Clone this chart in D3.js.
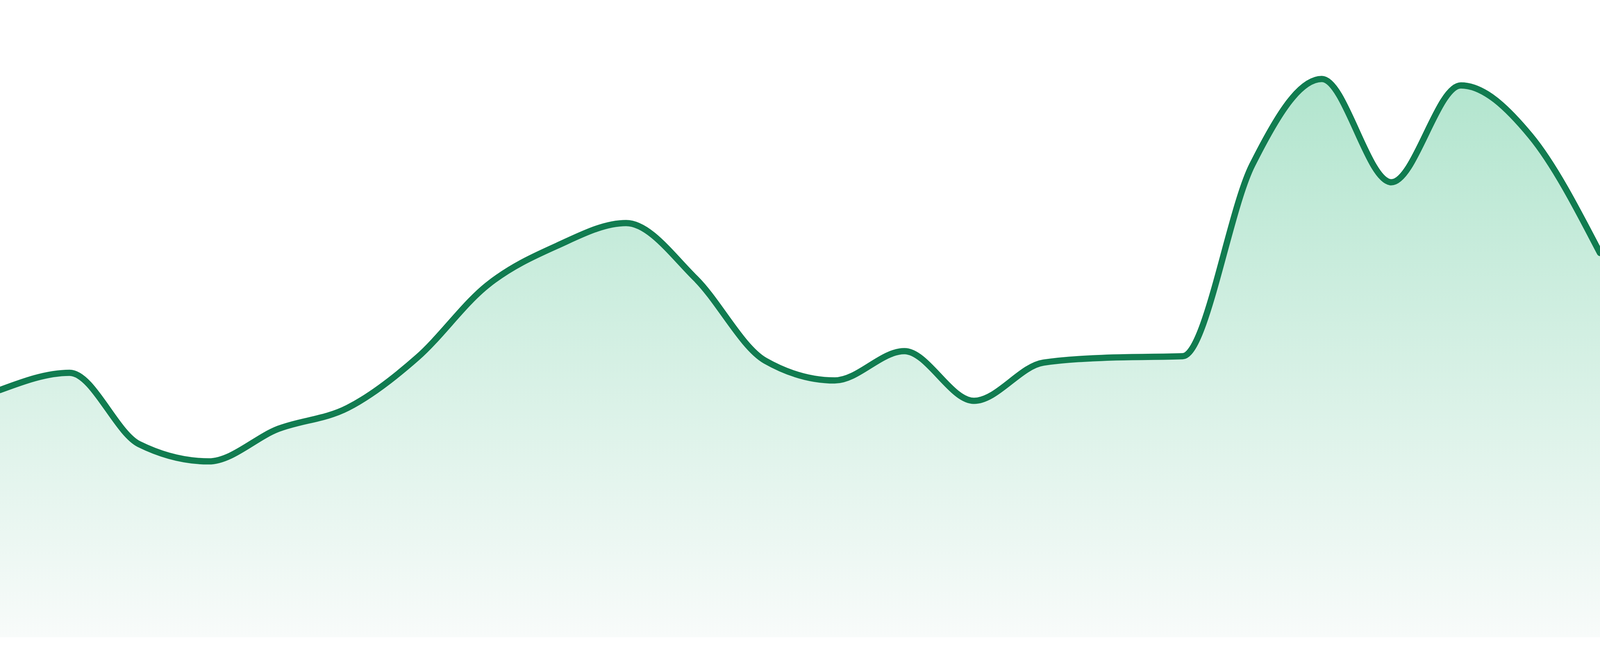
<!DOCTYPE html>
<html>
<head>
<meta charset="utf-8">
<script src="https://cdn.jsdelivr.net/npm/d3@7"></script>
<style>
  html, body { margin: 0; padding: 0; background: #fff; overflow: hidden; }
  svg { display: block; }
</style>
</head>
<body>
<svg></svg>
<script>
// daily series, 24 points spread across the full width
var days = d3.range(24);
var values = [38.8, 41.5, 30.3, 27.6, 32.7, 36.0, 43.9, 55.2, 61.4, 65.0, 56.3, 43.4,
              40.3, 44.9, 37.1, 43.1, 43.9, 44.1, 74.1, 87.6, 71.4, 86.6, 78.7, 60.3];
var yDomain = [0, 100];

// the chart fills the window; 48px of white is left under the area
var width = window.innerWidth;
var height = window.innerHeight;
var bottom = 48 * height / 1680;

var svg = d3.select("svg")
  .attr("width", width)
  .attr("height", height);

var data = days.map(function(d, i) { return { day: d, value: values[i] }; });

var x = d3.scaleLinear().domain([0, days.length - 1]).range([0, width]);
var y = d3.scaleLinear().domain(yDomain).range([height - bottom, 0]);

// fill fades out from the top of the curve to the baseline
var grad = svg.append("defs").append("linearGradient")
  .attr("id", "fade")
  .attr("gradientUnits", "userSpaceOnUse")
  .attr("x1", 0).attr("x2", 0)
  .attr("y1", y(d3.max(values)))
  .attr("y2", y(0));
grad.append("stop").attr("offset", "0%").attr("stop-color", "#b2e5ce");
grad.append("stop").attr("offset", "100%").attr("stop-color", "#f8fbfa");

var area = d3.area()
  .x(function(d) { return x(d.day); })
  .y0(y(0))
  .y1(function(d) { return y(d.value); })
  .curve(d3.curveMonotoneX);

var line = d3.line()
  .x(function(d) { return x(d.day); })
  .y(function(d) { return y(d.value); })
  .curve(d3.curveMonotoneX);

svg.append("path")
  .datum(data)
  .attr("fill", "url(#fade)")
  .attr("d", area);

svg.append("path")
  .datum(data)
  .attr("fill", "none")
  .attr("stroke", "#117c50")
  .attr("stroke-width", 16)
  .attr("stroke-linejoin", "round")
  .attr("stroke-linecap", "round")
  .attr("d", line);
</script>
</body>
</html>
